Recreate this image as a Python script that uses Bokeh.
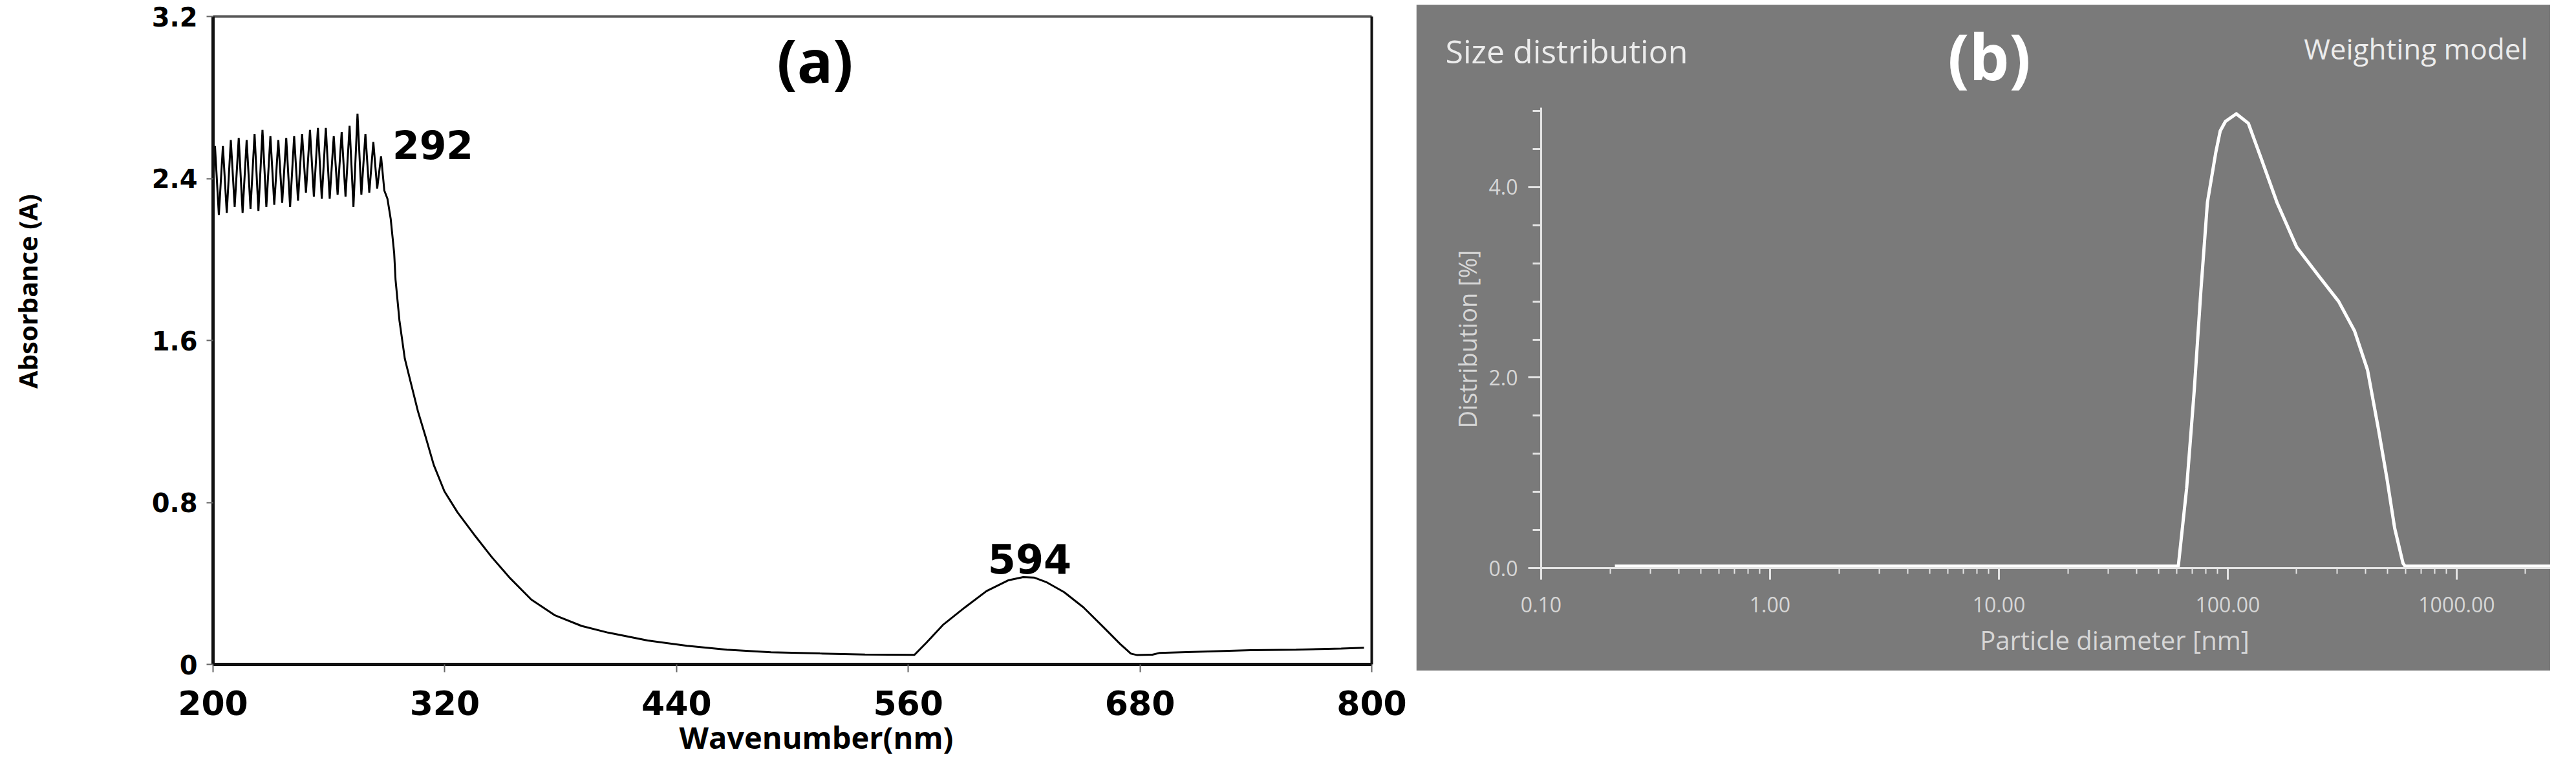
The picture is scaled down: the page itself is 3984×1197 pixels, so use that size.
import math
from bokeh.plotting import figure
from bokeh.models import (Range1d, FixedTicker, SingleIntervalTicker, LinearAxis,
                          PrintfTickFormatter, Label, BoxAnnotation)
from bokeh.layouts import row
from bokeh.embed import file_html
from bokeh.resources import INLINE

# ---------------- data: panel (a) UV-Vis spectrum ----------------
wavelength = [200.0, 201.0, 203.0, 205.1, 207.1, 209.2, 211.2, 213.3, 215.3, 217.4,
              219.4, 221.5, 223.5, 225.6, 227.6, 229.7, 231.7, 233.8, 235.8, 237.9,
              239.9, 242.0, 244.0, 246.1, 248.1, 250.2, 252.2, 254.3, 256.3, 258.4,
              260.4, 262.5, 264.5, 266.6, 268.6, 270.7, 272.7, 274.8, 276.8, 278.9,
              280.9, 283.0, 285.0, 287.0,
              288.7, 290.3, 292.0, 293.8, 294.5, 296.5, 299.3, 302.7, 306.1, 310.2,
              314.3, 319.8, 326.6, 334.8, 344.4, 353.9, 364.8, 377.1, 390.8, 404.5,
              425.0, 445.5, 466.0, 488.9, 514.2, 537.6, 563.2, 569.3, 578.2, 589.4,
              600.5, 611.7, 619.5, 625.1, 631.8, 640.7, 650.7, 661.9, 669.7, 675.3,
              678.6, 686.4, 690.3, 737.3, 760.8, 784.2, 796.0]
absorbance = [2.36, 2.56, 2.22, 2.56, 2.23, 2.59, 2.26, 2.60, 2.23, 2.59,
              2.25, 2.62, 2.24, 2.64, 2.26, 2.61, 2.27, 2.59, 2.28, 2.60,
              2.26, 2.61, 2.29, 2.62, 2.33, 2.64, 2.31, 2.65, 2.30, 2.65,
              2.30, 2.61, 2.32, 2.63, 2.31, 2.66, 2.26, 2.72, 2.32, 2.62,
              2.33, 2.58, 2.35, 2.51,
              2.34, 2.30, 2.20, 2.03, 1.90, 1.70, 1.51, 1.38, 1.25, 1.12,
              0.985, 0.855, 0.751, 0.646, 0.529, 0.425, 0.320, 0.242, 0.190, 0.157,
              0.118, 0.092, 0.073, 0.060, 0.054, 0.049, 0.047, 0.106, 0.197, 0.282,
              0.362, 0.415, 0.431, 0.429, 0.405, 0.357, 0.282, 0.176, 0.101, 0.053,
              0.046, 0.048, 0.057, 0.070, 0.073, 0.078, 0.082]
x_ticks_a = [200, 320, 440, 560, 680, 800]
y_ticks_a = [0, 0.8, 1.6, 2.4, 3.2]
y_tick_labels_a = {0: "0", 0.8: "0.8", 1.6: "1.6", 2.4: "2.4", 3.2: "3.2"}
peak_labels = ["292", "594"]

# ---------------- data: panel (b) DLS size distribution ----------------
diameter = [0.21, 60.8, 66.1, 71.4, 76.3, 81.5, 88.6, 92.7, 97.7, 109.0,
            123.0, 140.0, 164.0, 200.0, 251.0, 305.0, 358.0, 408.0, 456.0, 496.0,
            536.0, 583.0, 595.0, 2570.0]
distribution = [0.02, 0.02, 0.835, 1.87, 2.91, 3.84, 4.36, 4.59, 4.69, 4.77,
                4.67, 4.30, 3.84, 3.37, 3.06, 2.80, 2.49, 2.08, 1.45, 0.94,
                0.42, 0.05, 0.02, 0.02]
x_ticks_b = [0.1, 1, 10, 100, 1000]
y_interval_b = 2

# ================= panel (a) =================
# page-pixel layout of the axes box of (a)
A_X0, A_X1, A_Y0, A_Y1 = 200.0, 800.0, 0.0, 3.2
FA_L, FA_R, FA_T, FA_B = 337, 2129, 33, 1035
PA_W, PA_H = 2190, 1185            # figure occupies page x 8..2198, y 8..1193
kx_a = (FA_R - FA_L) / (A_X1 - A_X0)
ky_a = (FA_B - FA_T) / (A_Y1 - A_Y0)


def ax_a(sx):
    return A_X0 + (sx - FA_L) / kx_a


def ay_a(sy):
    return A_Y0 + (FA_B - sy) / ky_a


pa = figure(width=PA_W, height=PA_H,
            x_range=Range1d(ax_a(8), ax_a(8 + PA_W)),
            y_range=Range1d(ay_a(8 + PA_H), ay_a(8)),
            output_backend="svg", toolbar_location=None,
            min_border_left=0, min_border_right=0, min_border_top=0, min_border_bottom=0)
pa.outline_line_color = None
pa.grid.visible = False
pa.background_fill_color = "white"
pa.border_fill_color = "white"

pa.line(wavelength, absorbance, line_color="black", line_width=3)

xa = pa.xaxis[0]
xa.fixed_location = A_Y0
xa.bounds = (A_X0, A_X1)
xa.ticker = FixedTicker(ticks=x_ticks_a)
xa.axis_line_color = "#111111"
xa.axis_line_width = 5
xa.major_tick_out = 12
xa.major_tick_in = 0
xa.major_tick_line_color = "#666666"
xa.major_tick_line_width = 2
xa.minor_tick_line_color = None
xa.major_label_text_font = "DejaVu Sans"
xa.major_label_text_font_style = "bold"
xa.major_label_text_font_size = "52px"
xa.major_label_text_color = "black"
xa.major_label_standoff = 28

ya = pa.yaxis[0]
ya.fixed_location = A_X0
ya.bounds = (A_Y0, A_Y1)
ya.ticker = FixedTicker(ticks=y_ticks_a)
ya.major_label_overrides = y_tick_labels_a
ya.axis_line_color = "#111111"
ya.axis_line_width = 5
ya.major_tick_out = 10
ya.major_tick_in = 0
ya.major_tick_line_color = "#666666"
ya.major_tick_line_width = 2
ya.minor_tick_line_color = None
ya.major_label_text_font = "DejaVu Sans"
ya.major_label_text_font_style = "bold"
ya.major_label_text_font_size = "40px"
ya.major_label_text_color = "black"
ya.major_label_standoff = 14

# box edges on top (gray) and right (black)
top_edge = LinearAxis(fixed_location=A_Y1, bounds=(A_X0, A_X1), ticker=FixedTicker(ticks=[]),
                      axis_line_color="#555555", axis_line_width=4,
                      major_tick_line_color=None, minor_tick_line_color=None)
pa.add_layout(top_edge, "above")
right_edge = LinearAxis(fixed_location=A_X1, bounds=(A_Y0, A_Y1), ticker=FixedTicker(ticks=[]),
                        axis_line_color="#111111", axis_line_width=4,
                        major_tick_line_color=None, minor_tick_line_color=None)
pa.add_layout(right_edge, "right")

pa.add_layout(Label(x=ax_a(50), y=ay_a(458), text="Absorbance (A)", angle=math.pi / 2,
                    text_align="center", text_baseline="middle",
                    text_font="Open Sans", text_font_style="bold", text_font_size="40px",
                    text_color="black"))
pa.add_layout(Label(x=ax_a(1270), y=ay_a(1147), text="Wavenumber(nm)",
                    text_align="center", text_baseline="middle",
                    text_font="Open Sans", text_font_style="bold", text_font_size="47px",
                    text_color="black"))
pa.add_layout(Label(x=ax_a(1268), y=ay_a(100), text="(a)",
                    text_align="center", text_baseline="middle",
                    text_font="Open Sans", text_font_style="bold", text_font_size="92px",
                    text_color="black"))
pa.add_layout(Label(x=ax_a(677), y=ay_a(231), text=peak_labels[0],
                    text_align="center", text_baseline="alphabetic",
                    text_font="DejaVu Sans", text_font_style="bold", text_font_size="60px",
                    text_color="black"))
pa.add_layout(Label(x=ax_a(1600), y=ay_a(871), text=peak_labels[1],
                    text_align="center", text_baseline="alphabetic",
                    text_font="DejaVu Sans", text_font_style="bold", text_font_size="62px",
                    text_color="black"))

# ================= panel (b) =================
GRAY = "#7a7a7a"
AX_COL = "#e4e4e4"
LBL_COL = "#d6d6d6"
B_X0, B_X1, B_Y0, B_Y1 = 0.1, 2570.0, 0.0, 4.834
FB_L, FB_R, FB_T, FB_B = 2391, 3952, 174, 886
PB_LEFT, PB_W, PB_H = 2198, 1754, 1037     # figure occupies page x 2198..3952, y 8..1045
GRAY_TOP = 15
kx_b = (FB_R - FB_L) / math.log10(B_X1 / B_X0)
ky_b = (FB_B - FB_T) / (B_Y1 - B_Y0)


def bx(sx):
    return B_X0 * 10 ** ((sx - FB_L) / kx_b)


def by(sy):
    return B_Y0 + (FB_B - sy) / ky_b


pb = figure(width=PB_W, height=PB_H, x_axis_type="log",
            x_range=Range1d(bx(PB_LEFT), bx(PB_LEFT + PB_W)),
            y_range=Range1d(by(8 + PB_H), by(8)),
            output_backend="svg", toolbar_location=None,
            min_border_left=0, min_border_right=0, min_border_top=0, min_border_bottom=0)
pb.outline_line_color = None
pb.grid.visible = False
pb.background_fill_color = "white"
pb.border_fill_color = "white"

pb.add_layout(BoxAnnotation(top=by(GRAY_TOP), fill_color=GRAY, fill_alpha=1.0,
                            line_color=None, level="underlay"))

pb.line(diameter, distribution, line_color="white", line_width=5, line_join="round")

xb = pb.xaxis[0]
minor_b = [m * 10.0 ** e for e in range(-1, 4) for m in range(2, 10)]
xb.fixed_location = B_Y0
xb.bounds = (B_X0, B_X1)
xb.ticker = FixedTicker(ticks=x_ticks_b, minor_ticks=minor_b)
xb.formatter = PrintfTickFormatter(format="%.2f")
xb.axis_line_color = AX_COL
xb.axis_line_width = 3
xb.major_tick_out = 18
xb.major_tick_in = 0
xb.major_tick_line_color = AX_COL
xb.major_tick_line_width = 3
xb.minor_tick_out = 9
xb.minor_tick_in = 0
xb.minor_tick_line_color = AX_COL
xb.minor_tick_line_width = 2
xb.major_label_text_font = "Open Sans"
xb.major_label_text_font_size = "32px"
xb.major_label_text_color = LBL_COL
xb.major_label_standoff = 26

yb = pb.yaxis[0]
yb.fixed_location = B_X0
yb.bounds = (B_Y0, B_Y1)
yb.ticker = SingleIntervalTicker(interval=y_interval_b, num_minor_ticks=5)
yb.formatter = PrintfTickFormatter(format="%.1f")
yb.axis_line_color = AX_COL
yb.axis_line_width = 3
yb.major_tick_out = 20
yb.major_tick_in = 0
yb.major_tick_line_color = AX_COL
yb.major_tick_line_width = 3
yb.minor_tick_out = 13
yb.minor_tick_in = 0
yb.minor_tick_line_color = AX_COL
yb.minor_tick_line_width = 3
yb.major_label_text_font = "Open Sans"
yb.major_label_text_font_size = "32px"
yb.major_label_text_color = LBL_COL
yb.major_label_standoff = 16

pb.add_layout(Label(x=bx(2243), y=by(86), text="Size distribution",
                    text_align="left", text_baseline="middle",
                    text_font="Open Sans", text_font_size="50px", text_color="#ececec"))
pb.add_layout(Label(x=bx(3084), y=by(93), text="(b)",
                    text_align="center", text_baseline="middle",
                    text_font="Open Sans", text_font_style="bold", text_font_size="98px",
                    text_color="white"))
pb.add_layout(Label(x=bx(3917), y=by(82), text="Weighting model",
                    text_align="right", text_baseline="middle",
                    text_font="Open Sans", text_font_size="44px", text_color="#ececec"))
pb.add_layout(Label(x=bx(3278), y=by(997), text="Particle diameter [nm]",
                    text_align="center", text_baseline="middle",
                    text_font="Open Sans", text_font_size="40px", text_color=LBL_COL))
pb.add_layout(Label(x=bx(2276), y=by(532), text="Distribution [%]", angle=math.pi / 2,
                    text_align="center", text_baseline="middle",
                    text_font="Open Sans", text_font_size="38px", text_color=LBL_COL))

layout = row(pa, pb)

with open("out.html", "w") as f:
    f.write(file_html(layout, INLINE))
